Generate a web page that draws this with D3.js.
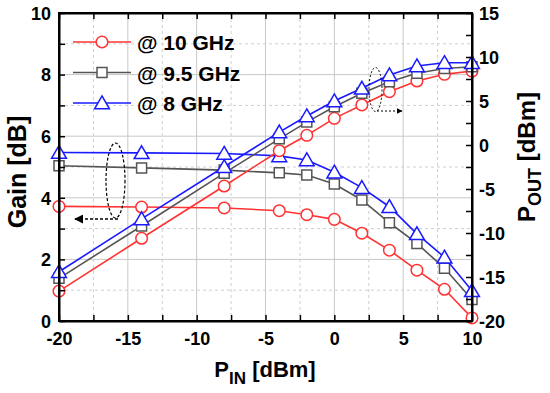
<!DOCTYPE html>
<html>
<head>
<meta charset="utf-8">
<script src="https://cdn.jsdelivr.net/npm/d3@7"></script>
<style>
body { margin: 0; background: #fff; }
text { font-family: Arial, "Liberation Sans", sans-serif; font-weight: bold; }
</style>
</head>
<body>
<div id="chart"></div>
<script>
var width = 550;
var height = 393;
var margin = {left: 59, right: 78, top: 13, bottom: 72};

// input power [dBm]
var pin = [-20, -14, -8, -4, -2, 0, 2, 4, 6, 8, 10];

// gain [dB]
var gain10 = [3.72, 3.7, 3.67, 3.58, 3.45, 3.3, 2.85, 2.3, 1.65, 1.03, 0.1];
var gain95 = [5.04, 4.97, 4.9, 4.81, 4.74, 4.45, 3.93, 3.19, 2.52, 1.71, 0.7];
var gain8 = [5.47, 5.46, 5.44, 5.36, 5.23, 4.83, 4.33, 3.71, 2.83, 2.07, 0.98];

// output power [dBm]
var pout10 = [-16.6, -10.6, -4.66, -0.65, 1.1, 3.03, 4.55, 6.06, 7.27, 8.03, 8.4];
var pout95 = [-15.15, -9.2, -3.2, 0.7, 2.6, 4.35, 5.87, 7.2, 8.15, 8.7, 8.9];
var pout8 = [-14.4, -8.4, -2.47, 1.47, 3.3, 5.0, 6.44, 7.95, 8.98, 9.35, 9.35];

var labels = ["@ 10 GHz", "@ 9.5 GHz", "@ 8 GHz"];
var colors = ["#ff3333", "#555555", "#1a1aff"];
var shapes = ["circle", "square", "triangle"];

var xTicks = [-20, -15, -10, -5, 0, 5, 10];
var gainTicks = [0, 2, 4, 6, 8, 10];
var poutTicks = [-20, -15, -10, -5, 0, 5, 10, 15];

var w = width - margin.left - margin.right;
var h = height - margin.top - margin.bottom;

var svg = d3.select("#chart")
	.append("svg")
	.attr("width", width)
	.attr("height", height);

var g = svg.append("g")
	.attr("transform", "translate(" + margin.left + "," + margin.top + ")");

var x = d3.scaleLinear().domain([-20, 10]).range([0, w]);
var yL = d3.scaleLinear().domain([0, 10]).range([h, 0]);
var yR = d3.scaleLinear().domain([-20, 15]).range([h, 0]);

// grid: solid at major ticks, dashed halfway
var minorX = d3.range(-17.5, 10, 5);
var minorY = d3.range(1, 10, 2);

g.selectAll(".vgrid").data(xTicks.slice(1, -1)).enter().append("line")
	.attr("x1", x).attr("x2", x).attr("y1", 0).attr("y2", h)
	.attr("stroke", "#c8c8c8").attr("stroke-width", 1);
g.selectAll(".vgridm").data(minorX).enter().append("line")
	.attr("x1", x).attr("x2", x).attr("y1", 0).attr("y2", h)
	.attr("stroke", "#cfcfcf").attr("stroke-dasharray", "3,3");
g.selectAll(".hgrid").data(gainTicks.slice(1, -1)).enter().append("line")
	.attr("y1", yL).attr("y2", yL).attr("x1", 0).attr("x2", w)
	.attr("stroke", "#c8c8c8").attr("stroke-width", 1);
g.selectAll(".hgridm").data(minorY).enter().append("line")
	.attr("y1", yL).attr("y2", yL).attr("x1", 0).attr("x2", w)
	.attr("stroke", "#cfcfcf").attr("stroke-dasharray", "3,3");

// series
var symbols = {circle: d3.symbolCircle, square: d3.symbolSquare, triangle: d3.symbolTriangle};
var sizes = {circle: 105, square: 100, triangle: 95};

function drawSeries(vals, yScale, i) {
	var pts = pin.map(function(p, k) { return [x(p), yScale(vals[k])]; });
	g.append("path")
		.attr("d", d3.line()(pts))
		.attr("fill", "none")
		.attr("stroke", colors[i])
		.attr("stroke-width", 1.6);
	g.selectAll(null).data(pts).enter().append("path")
		.attr("transform", function(d) {
			return "translate(" + d[0] + "," + (d[1] + (shapes[i] == "triangle" ? 1.5 : 0)) + ")";
		})
		.attr("d", d3.symbol().type(symbols[shapes[i]]).size(sizes[shapes[i]]))
		.attr("fill", "#fff")
		.attr("stroke", colors[i])
		.attr("stroke-width", 1.5);
}

drawSeries(gain10, yL, 0);
drawSeries(gain95, yL, 1);
drawSeries(gain8, yL, 2);
drawSeries(pout10, yR, 0);
drawSeries(pout95, yR, 1);
drawSeries(pout8, yR, 2);

// axes, ticks inward
var allX = d3.range(-20, 10.1, 2.5);
g.append("g").attr("transform", "translate(0," + h + ")")
	.call(d3.axisBottom(x).tickValues(allX).tickSizeInner(-6).tickSizeOuter(0)
		.tickFormat(function(d) { return xTicks.indexOf(d) >= 0 ? d : ""; }))
	.call(function(a) {
		a.selectAll("text").attr("dy", 0).attr("y", 24).style("font-size", "18px").attr("fill", "#000");
	});
g.append("g")
	.call(d3.axisTop(x).tickValues(allX).tickSizeInner(-6).tickSizeOuter(0).tickFormat(""));
g.append("g")
	.call(d3.axisLeft(yL).tickValues(d3.range(0, 10.1, 1)).tickSizeInner(-6).tickSizeOuter(0)
		.tickFormat(function(d) { return gainTicks.indexOf(d) >= 0 ? d : ""; }))
	.call(function(a) {
		a.selectAll("text").attr("x", -8).attr("dy", "0.35em").style("font-size", "18px").attr("fill", "#000");
	});
g.append("g").attr("transform", "translate(" + w + ",0)")
	.call(d3.axisRight(yR).tickValues(d3.range(-20, 15.1, 2.5)).tickSizeInner(-6).tickSizeOuter(0)
		.tickFormat(function(d) { return poutTicks.indexOf(d) >= 0 ? d : ""; }))
	.call(function(a) {
		a.selectAll("text").attr("x", 7).attr("dy", "0.35em").style("font-size", "18px").attr("fill", "#000");
	});

g.selectAll(".domain").attr("stroke", "#000").attr("stroke-width", 2);
g.selectAll(".tick line").attr("stroke", "#000").attr("stroke-width", 1.5);

// frame
g.append("rect").attr("width", w).attr("height", h)
	.attr("fill", "none").attr("stroke", "#000").attr("stroke-width", 2);

// axis titles
svg.append("text")
	.attr("transform", "translate(26,172) rotate(-90)")
	.attr("text-anchor", "middle")
	.style("font-size", "25px")
	.text("Gain [dB]");

var rt = svg.append("text")
	.attr("transform", "translate(535,157) rotate(-90)")
	.attr("text-anchor", "middle")
	.style("font-size", "24px");
rt.append("tspan").text("P");
rt.append("tspan").attr("dy", 6).style("font-size", "18px").text("OUT");
rt.append("tspan").attr("dy", -6).text(" [dBm]");

var bt = svg.append("text")
	.attr("x", 265)
	.attr("y", 377)
	.attr("text-anchor", "middle")
	.style("font-size", "22px");
bt.append("tspan").text("P");
bt.append("tspan").attr("dy", 7).style("font-size", "17px").text("IN");
bt.append("tspan").attr("dy", -7).text(" [dBm]");

// legend
var leg = svg.append("g");
labels.forEach(function(lab, i) {
	var ly = 42 + i * 30.5;
	leg.append("line").attr("x1", 73).attr("x2", 131).attr("y1", ly).attr("y2", ly)
		.attr("stroke", colors[i]).attr("stroke-width", 1.6);
	leg.append("path")
		.attr("transform", "translate(102," + (ly + (shapes[i] == "triangle" ? 1.5 : 0)) + ")")
		.attr("d", d3.symbol().type(symbols[shapes[i]]).size(sizes[shapes[i]]))
		.attr("fill", "#fff").attr("stroke", colors[i]).attr("stroke-width", 1.5);
	leg.append("text").attr("x", 137).attr("y", ly + 8)
		.style("font-size", "21px").text(lab);
});

// annotations
svg.append("defs").append("marker")
	.attr("id", "ah").attr("viewBox", "0 0 10 10").attr("refX", 9).attr("refY", 5)
	.attr("markerWidth", 6).attr("markerHeight", 6).attr("orient", "auto")
	.append("path").attr("d", "M0,0L10,5L0,10Z").attr("fill", "#000");

svg.append("ellipse").attr("cx", 115.5).attr("cy", 180.5).attr("rx", 9.5).attr("ry", 37.5)
	.attr("fill", "none").attr("stroke", "#000").attr("stroke-width", 1.2).attr("stroke-dasharray", "3,2");
svg.append("path").attr("d", "M118,219H75")
	.attr("stroke", "#000").attr("stroke-width", 1.5).attr("stroke-dasharray", "3,2")
	.attr("marker-end", "url(#ah)");

svg.append("ellipse").attr("cx", 375.5).attr("cy", 89.5).attr("rx", 6.5).attr("ry", 22)
	.attr("fill", "none").attr("stroke", "#000").attr("stroke-width", 1).attr("stroke-dasharray", "2,2");
svg.append("path").attr("d", "M377,111H402")
	.attr("stroke", "#000").attr("stroke-width", 1).attr("stroke-dasharray", "2,2")
	.attr("marker-end", "url(#ah)");
</script>
</body>
</html>
